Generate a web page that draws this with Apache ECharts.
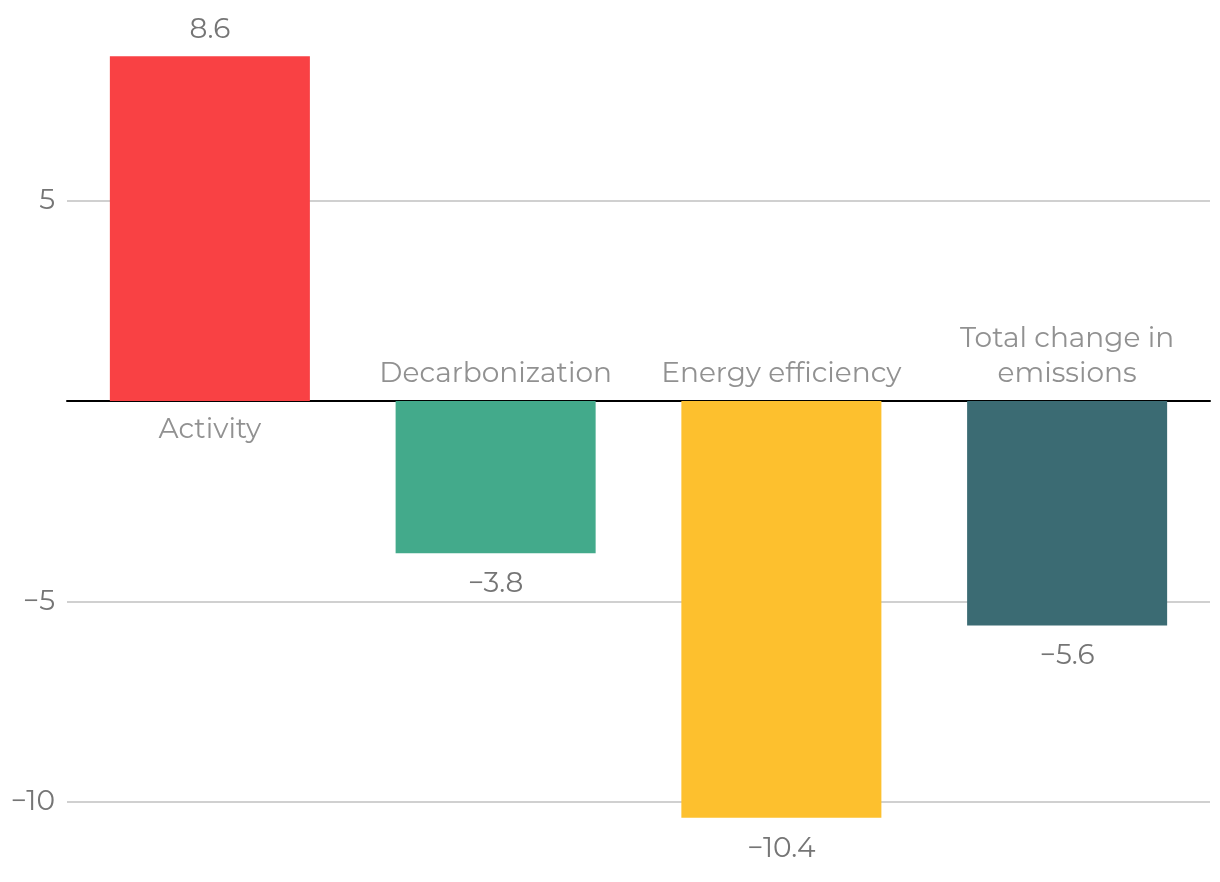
<!DOCTYPE html>
<html>
<head>
<meta charset="utf-8">
<script src="https://cdn.jsdelivr.net/npm/echarts@6/dist/echarts.min.js"></script>
<style>
html,body{margin:0;padding:0;background:#fff;}
#chart{width:1220px;height:882px;}
</style>
</head>
<body>
<div id="chart"></div>
<script>
const categories = ['Activity', 'Decarbonization', 'Energy efficiency', 'Total change in\nemissions'];
const values = [8.6, -3.8, -10.4, -5.6];
const barColors = ['#F94144', '#43AA8B', '#FDC02E', '#3B6B73'];
const yTickLabels = [5, -5, -10];
const yMin = -12;
const yMax = 10;

const FONT = "Montserrat, 'Open Sans', sans-serif";
const TEXT = '#757575';
const FS = 28;

function fmt(v) {
  return v < 0 ? '\u2212' + Math.abs(v) : String(v);
}

const tickValues = [];
for (let v = yMin; v <= yMax; v++) tickValues.push(v);
const splitColors = tickValues.map(v => yTickLabels.includes(v) ? '#c0c0c0' : 'rgba(0,0,0,0)');

const chart = echarts.init(document.getElementById('chart'), null, {renderer: 'canvas'});
chart.setOption({
  animation: false,
  backgroundColor: '#ffffff',
  grid: {left: 67, right: 10, top: 0, bottom: 0, containLabel: false},
  xAxis: {
    type: 'category',
    data: categories,
    axisLine: {show: true, onZero: true, lineStyle: {color: '#000', width: 2}},
    axisTick: {show: false},
    axisLabel: {show: false},
    splitLine: {show: false}
  },
  yAxis: {
    type: 'value',
    min: yMin,
    max: yMax,
    interval: 1,
    axisLine: {show: false},
    axisTick: {show: false},
    axisLabel: {
      margin: 12,
      fontFamily: FONT,
      fontSize: FS,
      color: TEXT,
      formatter: v => yTickLabels.includes(v) ? fmt(v) : ''
    },
    splitLine: {show: true, lineStyle: {color: splitColors, width: 1.5}}
  },
  series: [
    {
      type: 'bar',
      barWidth: '70%',
      z: 2,
      data: values.map((v, i) => ({
        value: v,
        itemStyle: {color: barColors[i]},
        label: {position: v >= 0 ? 'top' : 'bottom', distance: v >= 0 ? 9 : 13}
      })),
      label: {
        show: true,
        fontFamily: FONT,
        fontSize: FS,
        lineHeight: 35,
        color: TEXT,
        formatter: p => fmt(p.value)
      }
    },
    {
      type: 'scatter',
      symbolSize: 0,
      z: 3,
      silent: true,
      data: values.map((v, i) => ({
        value: [categories[i], 0],
        label: {position: v >= 0 ? 'bottom' : 'top', distance: v >= 0 ? 11 : 10}
      })),
      label: {
        show: true,
        fontFamily: FONT,
        fontSize: FS,
        lineHeight: 35,
        color: TEXT,
        align: 'center',
        formatter: p => p.value[0]
      }
    }
  ]
});
</script>
</body>
</html>
